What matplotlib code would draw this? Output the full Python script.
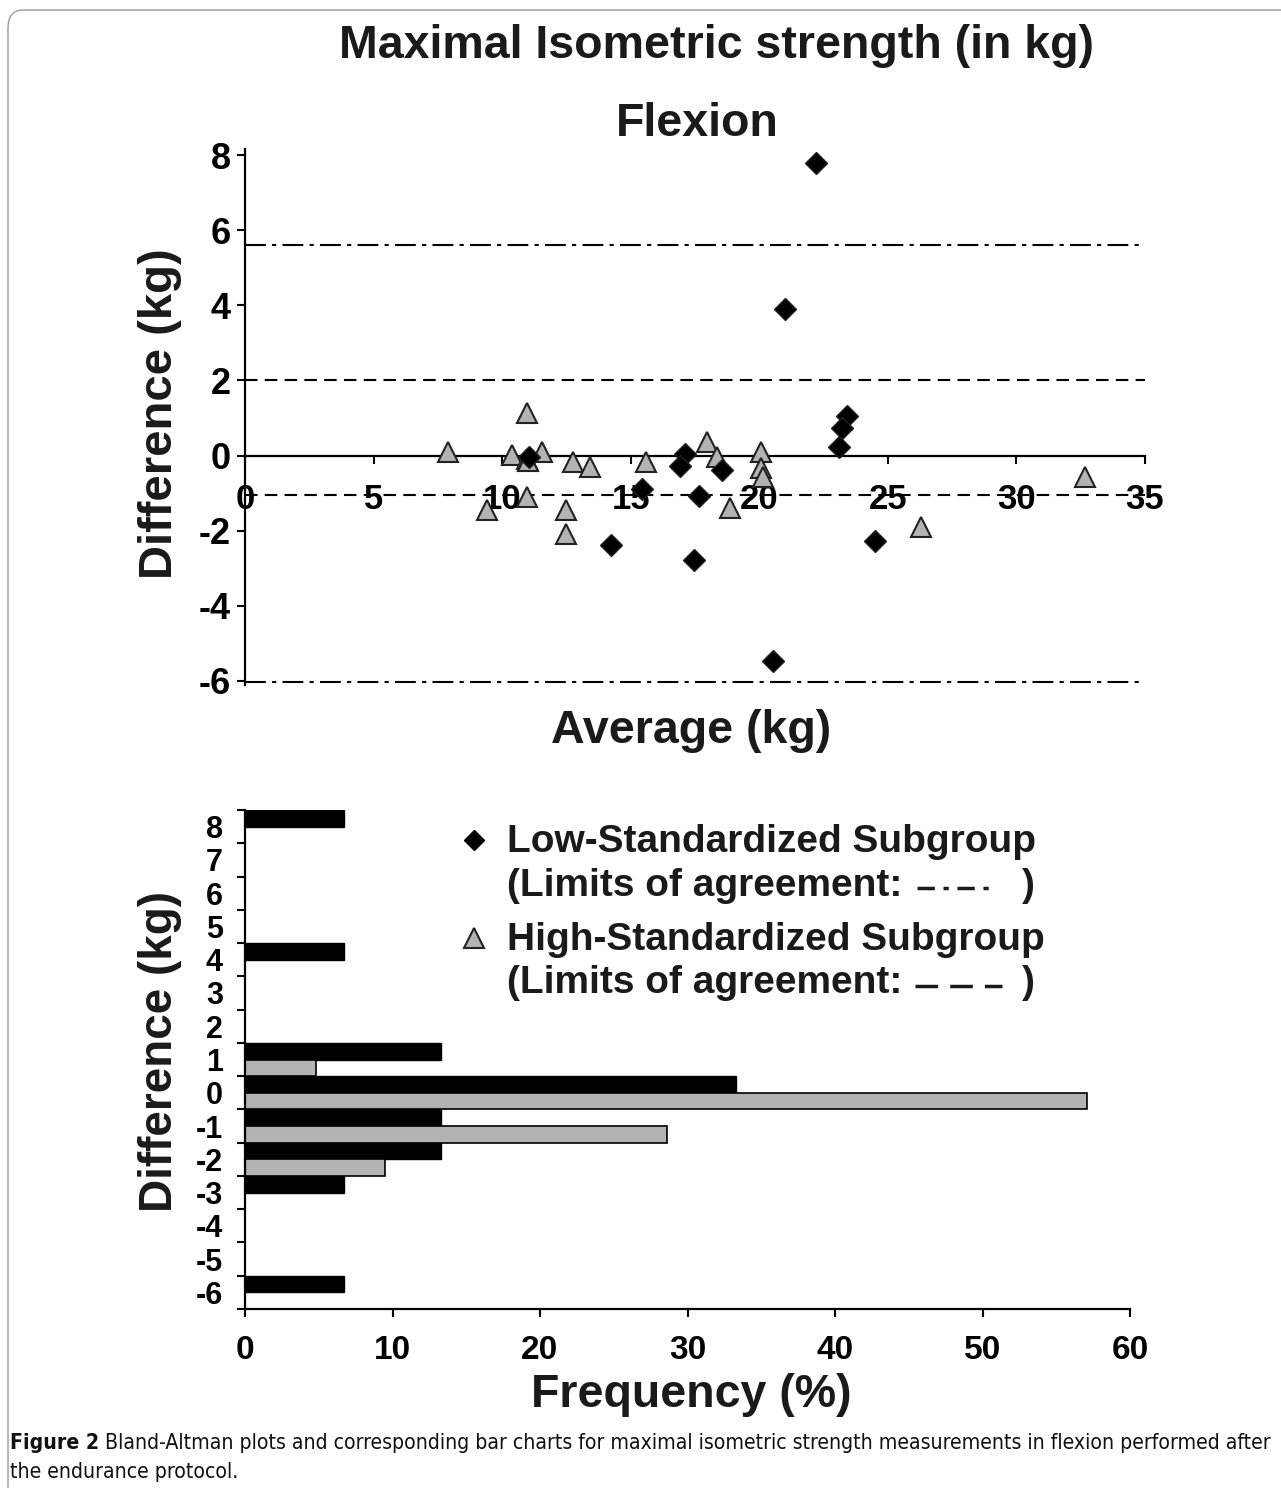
import matplotlib
matplotlib.use('Agg')
import matplotlib.pyplot as plt
import numpy as np
from matplotlib.lines import Line2D
from matplotlib.patches import FancyBboxPatch

# ---------------- data ----------------
low_avg = [22.2, 21.0, 23.4, 23.2, 23.1, 11.05, 17.1, 16.9, 18.55, 15.45, 17.65, 14.25, 17.45, 24.5, 20.55]
low_diff = [7.8, 3.9, 1.05, 0.73, 0.23, -0.03, 0.05, -0.28, -0.38, -0.9, -1.08, -2.37, -2.77, -2.27, -5.48]

high_avg = [7.9, 10.97, 10.4, 10.95, 11.0, 11.55, 12.75, 13.4, 15.6, 17.95, 18.35,
            20.05, 20.05, 20.15, 10.97, 9.4, 12.5, 12.5, 18.85, 26.3, 32.65]
high_diff = [0.1, 1.13, 0.02, -0.1, -0.15, 0.1, -0.17, -0.3, -0.17, 0.37, -0.05,
             0.1, -0.33, -0.57, -1.1, -1.45, -1.45, -2.1, -1.4, -1.9, -0.57]

low_loa = [5.6, -6.03]     # dash-dot lines
high_loa = [2.0, -1.05]    # dashed lines

categories = [8, 7, 6, 5, 4, 3, 2, 1, 0, -1, -2, -3, -4, -5, -6]
low_pct = [6.7, 0, 0, 0, 6.7, 0, 0, 13.3, 33.3, 13.3, 13.3, 6.7, 0, 0, 6.7]
high_pct = [0, 0, 0, 0, 0, 0, 0, 4.8, 57.1, 28.6, 9.5, 0, 0, 0, 0]

scatter_xticks = [0, 5, 10, 15, 20, 25, 30, 35]
scatter_yticks = [-6, -4, -2, 0, 2, 4, 6, 8]
bar_xticks = [0, 10, 20, 30, 40, 50, 60]

title = "Maximal Isometric strength (in kg)"
subtitle = "Flexion"
xlabel_top = "Average (kg)"
ylabel = "Difference (kg)"
xlabel_bot = "Frequency (%)"
legend_low = "Low-Standardized Subgroup"
legend_high = "High-Standardized Subgroup"
legend_loa = "(Limits of agreement:"
cap_bold = "Figure 2"
cap_line1 = " Bland-Altman plots and corresponding bar charts for maximal isometric strength measurements in flexion performed after"
cap_line2 = "the endurance protocol."

# ---------------- styling ----------------
W, H = 1281, 1488
REG = ['Liberation Sans', 'DejaVu Sans']
plt.rcParams['font.family'] = REG
plt.rcParams['font.weight'] = 'bold'
plt.rcParams['axes.unicode_minus'] = False
GRAY = '#b3b3b3'
DARK = '#1a1a1a'

fig = plt.figure(figsize=(W / 100, H / 100), dpi=100)


def fx(x):
    return x / W


def fy(y):
    return 1 - y / H


def axrect(l, t, r, b):
    return [l / W, 1 - b / H, (r - l) / W, (b - t) / H]


# frame border
border = FancyBboxPatch((fx(8), fy(1520)), fx(1320), (1520 - 10) / H,
                        boxstyle="round,pad=0,rounding_size=0.012",
                        transform=fig.transFigure, fill=False,
                        edgecolor='#9a9a9a', lw=1.0)
fig.patches.append(border)

# ---------------- top: Bland-Altman scatter ----------------
ax1 = fig.add_axes(axrect(245, 149.4, 1145, 684.7))
ax1.set_xlim(0, 35)
ax1.set_ylim(-6.1, 8.15)
for s in ['top', 'right']:
    ax1.spines[s].set_visible(False)
ax1.spines['bottom'].set_position(('data', 0))
ax1.spines['left'].set_linewidth(1.6)
ax1.spines['bottom'].set_linewidth(1.6)
ax1.set_xticks(scatter_xticks)
ax1.set_yticks(scatter_yticks)
ax1.tick_params(axis='x', direction='out', length=6, width=1.5, pad=14, labelsize=25)
ax1.tick_params(axis='y', direction='out', length=6, width=1.5, pad=4, labelsize=26)
for lab in ax1.get_xticklabels() + ax1.get_yticklabels():
    lab.set_fontweight('bold')

for v in low_loa:
    ax1.axhline(v, color='black', lw=1.5, dashes=(10, 3, 2, 3), zorder=1)
for v in high_loa:
    ax1.axhline(v, color='black', lw=1.5, dashes=(6, 3.5), zorder=1)

ax1.plot(high_avg, high_diff, linestyle='none', marker='^', ms=15,
         mfc=GRAY, mec='#222222', mew=1.5, zorder=3, clip_on=False)
ax1.plot(low_avg, low_diff, linestyle='none', marker='D', ms=11,
         mfc='black', mec='#222222', mew=1.0, zorder=4, clip_on=False)

BIG = 33.5
fig.text(fx(717), fy(46), title, ha='center', va='center', fontsize=BIG,
         fontweight='bold', color=DARK)
fig.text(fx(697), fy(124), subtitle, ha='center', va='center', fontsize=BIG,
         fontweight='bold', color=DARK)
fig.text(fx(691), fy(731), xlabel_top, ha='center', va='center', fontsize=BIG,
         fontweight='bold', color=DARK)
fig.text(fx(160), fy(414), ylabel, ha='center', va='center', rotation=90,
         fontsize=34, fontweight='bold', color=DARK)

# ---------------- bottom: bar chart ----------------
ax2 = fig.add_axes(axrect(245, 810, 1130, 1309))
ax2.set_xlim(0, 60)
ax2.set_ylim(-6.5, 8.5)
for s in ['top', 'right']:
    ax2.spines[s].set_visible(False)
ax2.spines['left'].set_linewidth(1.6)
ax2.spines['bottom'].set_linewidth(1.6)

cats = np.array(categories, dtype=float)
lp = np.array(low_pct)
hp = np.array(high_pct)
m = lp > 0
ax2.barh(cats[m] + 0.25, lp[m], height=0.5, color='black', edgecolor='black', lw=1)
m = hp > 0
ax2.barh(cats[m] - 0.25, hp[m], height=0.5, color=GRAY, edgecolor='black', lw=1.2)

ax2.set_xticks(bar_xticks)
ax2.set_yticks(categories)
ax2.set_yticks(np.arange(-6.5, 8.6, 1.0), minor=True)
ax2.tick_params(axis='y', which='major', length=0, pad=16, labelsize=22)
ax2.tick_params(axis='y', which='minor', direction='out', length=6, width=1.5)
ax2.tick_params(axis='x', direction='out', length=6, width=1.5, pad=13, labelsize=24)
for lab in ax2.get_xticklabels() + ax2.get_yticklabels():
    lab.set_fontweight('bold')

fig.text(fx(691), fy(1395), xlabel_bot, ha='center', va='center', fontsize=BIG,
         fontweight='bold', color=DARK)
fig.text(fx(160), fy(1051), ylabel, ha='center', va='center', rotation=90,
         fontsize=33, fontweight='bold', color=DARK)

# legend
LFS = 28
fig.text(fx(507), fy(842), legend_low, ha='left', va='center', fontsize=LFS,
         fontweight='bold', color=DARK)
fig.text(fx(507), fy(886), legend_loa, ha='left', va='center', fontsize=LFS,
         fontweight='bold', color=DARK)
fig.text(fx(1022), fy(886), ")", ha='left', va='center', fontsize=LFS,
         fontweight='bold', color=DARK)
fig.text(fx(507), fy(940), legend_high, ha='left', va='center', fontsize=LFS,
         fontweight='bold', color=DARK)
fig.text(fx(507), fy(983), legend_loa, ha='left', va='center', fontsize=LFS,
         fontweight='bold', color=DARK)
fig.text(fx(1022), fy(983), ")", ha='left', va='center', fontsize=LFS,
         fontweight='bold', color=DARK)
fig.lines.append(Line2D([fx(917), fx(989)], [fy(888), fy(888)], transform=fig.transFigure,
                        color=DARK, lw=2.5, dashes=(5, 2.5, 1.5, 2.5)))
fig.lines.append(Line2D([fx(915), fx(1002)], [fy(986), fy(986)], transform=fig.transFigure,
                        color=DARK, lw=2.5, dashes=(6.5, 3.5)))
fig.lines.append(Line2D([fx(474)], [fy(840)], transform=fig.transFigure, marker='D',
                        ms=10.5, mfc='black', mec='black', linestyle='none'))
fig.lines.append(Line2D([fx(474)], [fy(938)], transform=fig.transFigure, marker='^',
                        ms=15, mfc=GRAY, mec='#222222', mew=1.5, linestyle='none'))

# caption
CAPF = dict(family=['DejaVu Sans'], stretch='condensed')
CFS = 15
t_b = fig.text(fx(10), fy(1443), cap_bold, ha='left', va='center', fontsize=CFS,
               fontweight='bold', color='#111111', **CAPF)
fig.canvas.draw()
r = fig.canvas.get_renderer()
bb = t_b.get_window_extent(r)
t_1 = fig.text(bb.x1 / W, fy(1443), cap_line1, ha='left', va='center', fontsize=CFS,
               fontweight='normal', color='#111111', **CAPF)
fig.canvas.draw()
bb1 = t_1.get_window_extent(r)
scale = (1278 - 10) / (bb1.x1 - bb.x0)
CFS2 = CFS * scale
t_b.set_fontsize(CFS2)
fig.canvas.draw()
bb = t_b.get_window_extent(r)
t_1.set_position((bb.x1 / W, fy(1443)))
t_1.set_fontsize(CFS2)
fig.text(fx(10), fy(1472), cap_line2, ha='left', va='center', fontsize=CFS2,
         fontweight='normal', color='#111111', **CAPF)

fig.savefig('out.png', dpi=100)
